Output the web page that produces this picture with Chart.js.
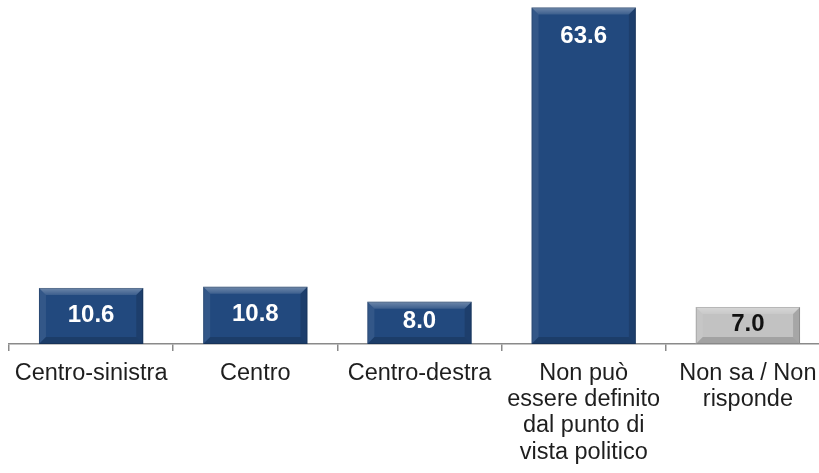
<!DOCTYPE html>
<html>
<head>
<meta charset="utf-8">
<script src="https://cdn.jsdelivr.net/npm/chart.js@4/dist/chart.umd.min.js"></script>
<style>
  html, body { margin: 0; padding: 0; background: #ffffff; overflow: hidden; }
  #wrap { position: relative; width: 830px; height: 473px; }
</style>
</head>
<body>
<div id="wrap"><canvas id="c"></canvas></div>
<script>
const categories = [
  'Centro-sinistra',
  'Centro',
  'Centro-destra',
  ['Non può', 'essere definito', 'dal punto di', 'vista politico'],
  ['Non sa / Non', 'risponde']
];
const values = [10.6, 10.8, 8.0, 63.6, 7.0];
const valueLabels = ['10.6', '10.8', '8.0', '63.6', '7.0'];

const BLUE = '#22497E';
const GRAY = '#C2C2C2';
const barFill = values.map((v, i) => i === 4 ? GRAY : BLUE);
const labelColor = values.map((v, i) => i === 4 ? '#111111' : '#ffffff');

const bevelPlugin = {
  id: 'bevel',
  afterDatasetsDraw(chart) {
    const ctx = chart.ctx;
    const meta = chart.getDatasetMeta(0);
    meta.data.forEach((bar, i) => {
      const l = bar.x - bar.width / 2, r = bar.x + bar.width / 2;
      const t = bar.y, b = bar.base;
      const s = 7;
      ctx.save();
      // top bevel (light)
      const g = ctx.createLinearGradient(0, t, 0, t + s);
      g.addColorStop(0, 'rgba(255,255,255,0.35)');
      g.addColorStop(1, 'rgba(255,255,255,0.12)');
      ctx.fillStyle = g;
      ctx.beginPath();
      ctx.moveTo(l, t); ctx.lineTo(r, t); ctx.lineTo(r - s, t + s); ctx.lineTo(l + s, t + s); ctx.closePath(); ctx.fill();
      // left bevel
      ctx.fillStyle = 'rgba(255,255,255,0.08)';
      ctx.beginPath();
      ctx.moveTo(l, t); ctx.lineTo(l + s, t + s); ctx.lineTo(l + s, b - s); ctx.lineTo(l, b); ctx.closePath(); ctx.fill();
      // right bevel (dark)
      ctx.fillStyle = 'rgba(0,0,0,0.14)';
      ctx.beginPath();
      ctx.moveTo(r, t); ctx.lineTo(r - s, t + s); ctx.lineTo(r - s, b - s); ctx.lineTo(r, b); ctx.closePath(); ctx.fill();
      // bottom bevel (dark)
      ctx.fillStyle = 'rgba(0,0,0,0.16)';
      ctx.beginPath();
      ctx.moveTo(l, b); ctx.lineTo(r, b); ctx.lineTo(r - s, b - s); ctx.lineTo(l + s, b - s); ctx.closePath(); ctx.fill();
      // outline
      ctx.strokeStyle = 'rgba(0,0,0,0.15)';
      ctx.lineWidth = 1;
      ctx.strokeRect(l + 0.5, t + 0.5, bar.width - 1, b - t - 1);
      ctx.restore();
    });
  }
};

const valueLabelPlugin = {
  id: 'valueLabels',
  afterDatasetsDraw(chart) {
    const ctx = chart.ctx;
    const meta = chart.getDatasetMeta(0);
    meta.data.forEach((bar, i) => {
      const t = bar.y, b = bar.base;
      const y = Math.min((t + b) / 2 - 2, t + 28);
      ctx.save();
      ctx.font = 'bold 24px "Liberation Sans", Arial, sans-serif';
      ctx.textAlign = 'center';
      ctx.textBaseline = 'middle';
      ctx.fillStyle = labelColor[i];
      ctx.fillText(valueLabels[i], bar.x, y + 1);
      ctx.restore();
    });
  }
};

new Chart(document.getElementById('c'), {
  type: 'bar',
  data: {
    labels: categories,
    datasets: [{
      data: values,
      backgroundColor: barFill,
      borderWidth: 0,
      categoryPercentage: 1.0,
      barPercentage: 0.635
    }]
  },
  options: {
    responsive: true,
    maintainAspectRatio: false,
    animation: false,
    layout: { padding: { left: 9, right: 0, top: 0, bottom: 0 } },
    plugins: {
      legend: { display: false },
      tooltip: { enabled: false }
    },
    scales: {
      y: {
        display: false,
        min: 0,
        max: 65
      },
      x: {
        afterFit(scale) { scale.height = 129; },
        grid: {
          display: true,
          drawOnChartArea: false,
          drawTicks: true,
          tickLength: 7,
          color: '#8a8a8a',
          lineWidth: 1.5,
          offset: true
        },
        border: { display: true, color: '#8a8a8a', width: 1.5 },
        ticks: {
          autoSkip: false,
          maxRotation: 0,
          minRotation: 0,
          padding: 9,
          color: '#1e1e1e',
          font: { family: '"Liberation Sans", Arial, sans-serif', size: 23.5, lineHeight: 1.12 }
        }
      }
    }
  },
  plugins: [bevelPlugin, valueLabelPlugin]
});
</script>
</body>
</html>
